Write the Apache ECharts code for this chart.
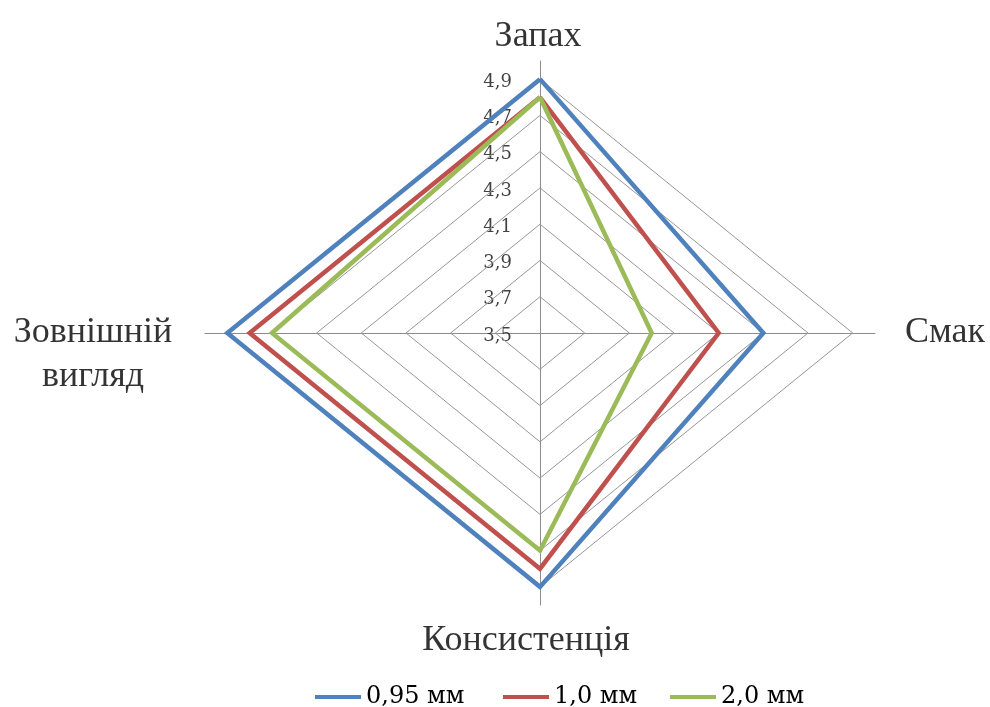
<!DOCTYPE html>
<html>
<head>
<meta charset="utf-8">
<script src="https://cdn.jsdelivr.net/npm/echarts@6/dist/echarts.min.js"></script>
<style>
  html, body { margin: 0; padding: 0; background: #fff; }
  #chart { width: 990px; height: 707px; }
</style>
</head>
<body>
<div id="chart"></div>
<script>
// Sensory profile: four attributes, three thickness variants
const indicators = ['Запах', 'Смак', 'Консистенція', 'Зовнішній\nвигляд'];
const seriesNames = ['0,95 мм', '1,0 мм', '2,0 мм'];
// values in the order of indicators
const values095 = [4.9, 4.5, 4.9, 4.9];
const values10  = [4.8, 4.3, 4.8, 4.8];
const values20  = [4.8, 4.0, 4.7, 4.7];
const tickValues = [3.5, 3.7, 3.9, 4.1, 4.3, 4.5, 4.7, 4.9];
const tickLabels = ['3,5', '3,7', '3,9', '4,1', '4,3', '4,5', '4,7', '4,9'];

const base = 3.5;      // score at the centre
const axisTop = 5.0;   // score where the spokes end
const reach = axisTop - base;

const colors = ['#4F81BD', '#C0504D', '#9BBB59'];
const serif = '"Liberation Serif", "Times New Roman", serif';
const wideSerif = '"DejaVu Serif", serif';

// spokes: up, right, down, left
const dirs = [[0, 1], [1, 0], [0, -1], [-1, 0]];

function polygon(vals) {
  const pts = vals.map((v, i) => [dirs[i][0] * (v - base), dirs[i][1] * (v - base)]);
  pts.push(pts[0]);
  return pts;
}

// concentric grid diamonds, one per tick level
const ringSeries = tickValues.filter(t => t > base).map(t => ({
  type: 'line',
  silent: true,
  showSymbol: false,
  symbol: 'none',
  z: 2,
  lineStyle: { color: '#979797', width: 1 },
  data: polygon([t, t, t, t])
}));

const dataSets = [values095, values10, values20];
const mainSeries = dataSets.map((vals, i) => ({
  name: seriesNames[i],
  type: 'line',
  showSymbol: false,
  symbol: 'none',
  z: 3,
  color: colors[i],
  lineStyle: { color: colors[i], width: 4.5, join: 'miter' },
  data: polygon(vals)
}));

// scale labels along the upper spoke
const tickSeries = {
  type: 'scatter',
  silent: true,
  symbolSize: 0,
  z: 1,
  data: tickValues.map((t, i) => ({
    value: [0, t - base],
    label: {
      show: true,
      formatter: tickLabels[i],
      position: 'left',
      distance: 28,
      offset: [0, 3],
      fontFamily: wideSerif,
      fontSize: 18,
      color: '#111'
    }
  }))
};

// attribute names at the spoke ends
const nameLabels = [
  { position: 'top', distance: 6, offset: [-2, 0] },
  { position: 'right', distance: 30, offset: [0, 0] },
  { position: 'bottom', distance: 18, offset: [-14, 0] },
  { position: 'inside', offset: [-112, 22], align: 'center', lineHeight: 44 }
];
const nameSeries = {
  type: 'scatter',
  silent: true,
  symbolSize: 0,
  z: 4,
  data: indicators.map((name, i) => ({
    name: name,
    value: [dirs[i][0] * reach, dirs[i][1] * reach],
    label: Object.assign({
      show: true,
      formatter: name,
      fontFamily: serif,
      fontSize: 36,
      color: '#000'
    }, nameLabels[i])
  }))
};

// one legend block per series so each entry keeps its own place
const legendLeft = [310, 498, 665];
const legends = seriesNames.map((n, i) => ({
  data: [n],
  left: legendLeft[i],
  top: 680,
  icon: 'rect',
  itemWidth: 46,
  itemHeight: 4,
  textStyle: { fontFamily: wideSerif, fontSize: 24, color: '#000' }
}));

const chart = echarts.init(document.getElementById('chart'), null, { renderer: 'canvas' });
chart.setOption({
  backgroundColor: '#ffffff',
  animation: false,
  grid: { left: 205, top: 61, width: 670, height: 544, containLabel: false },
  xAxis: {
    type: 'value',
    min: -reach,
    max: reach,
    axisLine: { show: true, onZero: true, lineStyle: { color: '#8c8c8c', width: 1 } },
    axisTick: { show: false },
    axisLabel: { show: false },
    splitLine: { show: false }
  },
  yAxis: {
    type: 'value',
    min: -reach,
    max: reach,
    axisLine: { show: true, onZero: true, lineStyle: { color: '#8c8c8c', width: 1 } },
    axisTick: { show: false },
    axisLabel: { show: false },
    splitLine: { show: false }
  },
  legend: legends,
  series: ringSeries.concat(mainSeries, [tickSeries, nameSeries])
});
</script>
</body>
</html>
